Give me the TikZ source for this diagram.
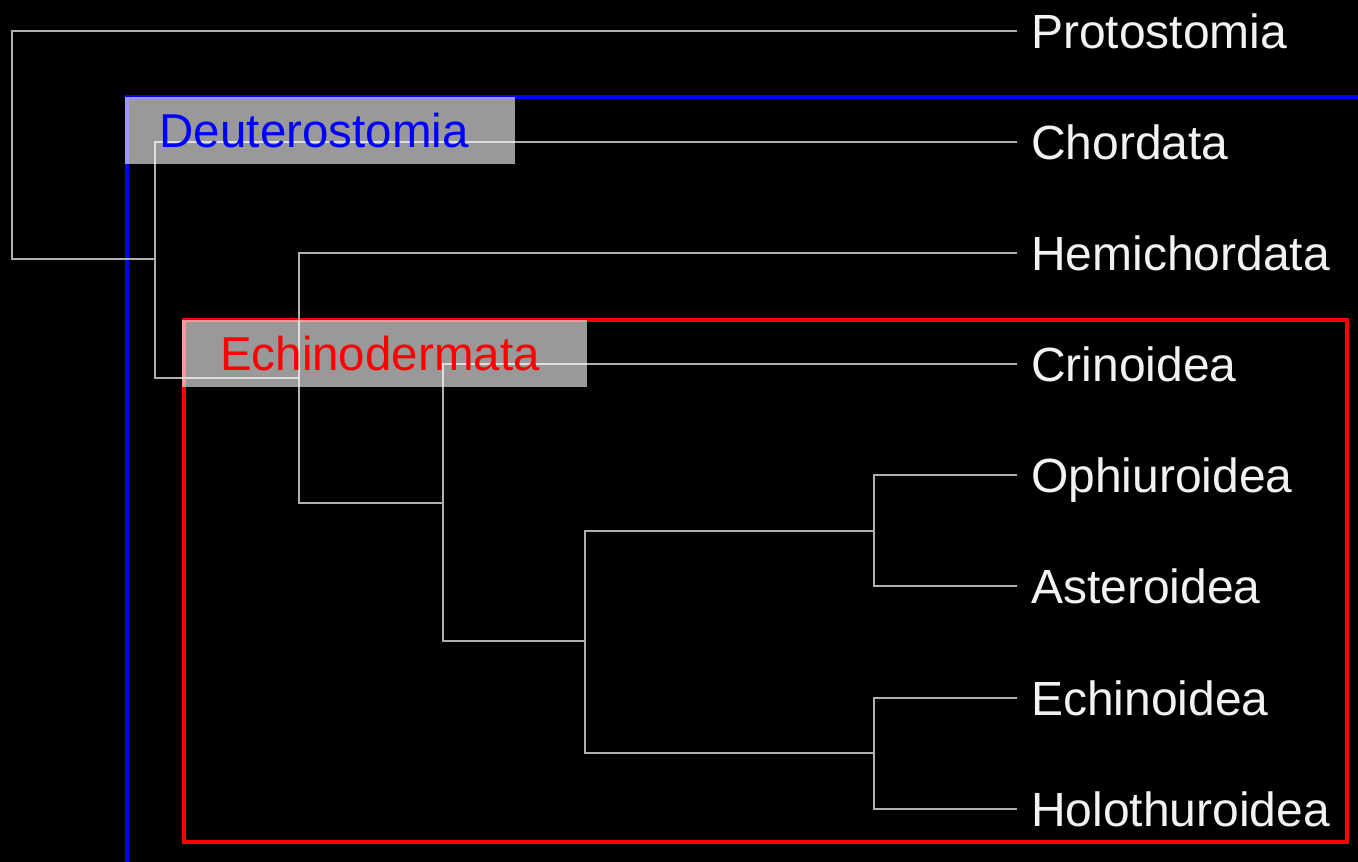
\documentclass[tikz,border=0pt]{standalone}
\usepackage{fontspec}
\setmainfont{Liberation Sans}
\begin{document}
\begin{tikzpicture}[x=1pt,y=-1pt,
  branch/.style={draw=treegray, line width=2pt, line join=miter},
  leaf/.style={anchor=west, inner xsep=14pt, inner ysep=0pt, text height=34pt, text depth=0pt,
    text=leafwhite, font=\fontsize{48}{56}\selectfont},
  cladebox/.style={anchor=north west, fill=white, fill opacity=0.6, text opacity=1,
    inner ysep=16.5pt, text height=34pt, text depth=0pt, align=left,
    font=\fontsize{47.5}{56}\selectfont},
  cladeframe/.style={line width=4pt}]
\definecolor{treegray}{RGB}{175,175,175}
\definecolor{leafwhite}{RGB}{242,242,242}
\useasboundingbox (0,0) rectangle (1358,862);
\fill[black] (0,0) rectangle (1358,862);
\clip (0,0) rectangle (1358,862);
% clade frames
\draw[cladeframe, blue] (126.5,96.5) rectangle (1370,880);
\draw[cladeframe, red] (184,319.5) rectangle (1346.5,841.5);
% leaves
\node[leaf] (prot) at (1017,31) {Protostomia};
\node[leaf] (chor) at (1017,142) {Chordata};
\node[leaf] (hemi) at (1017,253) {Hemichordata};
\node[leaf] (crin) at (1017,364) {Crinoidea};
\node[leaf] (ophi) at (1017,475) {Ophiuroidea};
\node[leaf] (aste) at (1017,586) {Asteroidea};
\node[leaf] (echi) at (1017,698) {Echinoidea};
\node[leaf] (holo) at (1017,809) {Holothuroidea};
% internal nodes
\coordinate (r) at (12,145);
\coordinate (d) at (155,259);
\coordinate (h) at (299,378);
\coordinate (e) at (443,503);
\coordinate (a) at (585,641);
\coordinate (o) at (874,531);
\coordinate (c) at (874,753);
% branches
\draw[branch] (prot.west) -| (r) |- (d);
\draw[branch] (chor.west) -| (d) |- (h);
\draw[branch] (hemi.west) -| (h) |- (e);
\draw[branch] (crin.west) -| (e) |- (a);
\draw[branch] (o) -| (a) |- (c);
\draw[branch] (ophi.west) -| (o) |- (aste.west);
\draw[branch] (echi.west) -| (c) |- (holo.west);
% clade labels
\node[cladebox, text=blue, inner xsep=34.5pt, text width=321pt] (deutbox) at (125,97) {Deuterostomia};
\node[cladebox, text=red, inner xsep=38pt, text width=329pt] (echbox) at (182,320) {Echinodermata};
\end{tikzpicture}
\end{document}
